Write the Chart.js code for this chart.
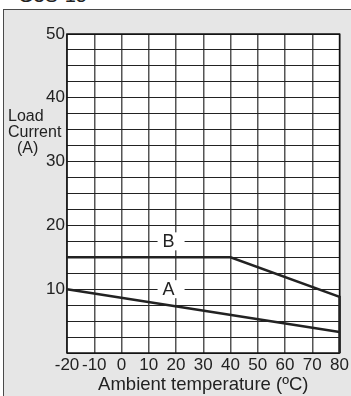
<!DOCTYPE html>
<html>
<head>
<meta charset="utf-8">
<script src="https://cdn.jsdelivr.net/npm/chart.js@4.4.1/dist/chart.umd.min.js"></script>
<style>
	body { margin: 0; width: 351px; height: 396px; overflow: hidden; background: #fff; position: relative; font-family: Arial, "Liberation Sans", sans-serif; }
	#panel { position: absolute; left: 3px; top: 9px; width: 400px; height: 420px; background: #e6e6e6; border: 1px solid #4a4a4a; }
	#title { position: absolute; left: 18px; top: -16px; font-size: 20px; color: #222; }
	#ylab { position: absolute; left: 8px; top: 108px; font-size: 16px; line-height: 16px; color: #222; white-space: pre; }
	#wrap { position: absolute; left: 0; top: 0; width: 351px; height: 396px; }
</style>
</head>
<body>
<div id="panel"></div>
<div id="title">G3S-15</div>
<div id="wrap"><canvas id="chart"></canvas></div>
<div id="ylab">Load
Current
  (A)</div>
<script>
// temperature points (ºC) and load current (A) for each curve
var tempsA = [-20, 80];
var currentA = [10, 3.3];
var tempsB = [-20, 40, 80, 80];
var currentB = [15, 15, 8.8, 0];

// curve labels, placed in data units
var curveNames = ['A', 'B'];
var nameTemps = [18, 18];
var nameCurrents = [10, 17.5];

var xTicks = [-20, -10, 0, 10, 20, 30, 40, 50, 60, 70, 80];
var yLabels = [10, 20, 30, 40, 50];

function points(xs, ys) {
	return xs.map(function (x, i) {
		return { x: x, y: ys[i] };
	});
}

var plotBack = {
	id: 'plotBack',
	beforeDraw: function (chart) {
		var a = chart.chartArea;
		var ctx = chart.ctx;
		ctx.save();
		ctx.fillStyle = '#fff';
		ctx.fillRect(a.left, a.top, a.right - a.left, a.bottom - a.top);
		ctx.restore();
	},
	beforeDatasetsDraw: function (chart) {
		var a = chart.chartArea;
		var ctx = chart.ctx;
		ctx.save();
		ctx.strokeStyle = '#111';
		ctx.lineWidth = 1.5;
		ctx.strokeRect(a.left, a.top, a.right - a.left, a.bottom - a.top);
		ctx.restore();
	},
	afterDatasetsDraw: function (chart) {
		var ctx = chart.ctx;
		var xs = chart.scales.x, ys = chart.scales.y;
		ctx.save();
		ctx.font = '18px Arial, "Liberation Sans"';
		ctx.textAlign = 'center';
		ctx.textBaseline = 'middle';
		for (var i = 0; i < curveNames.length; i++) {
			var px = xs.getPixelForValue(nameTemps[i]);
			var py = ys.getPixelForValue(nameCurrents[i]);
			ctx.fillStyle = '#fff';
			ctx.fillRect(px - 13, py - 9, 27, 18);
			ctx.fillStyle = '#222';
			ctx.fillText(curveNames[i], px - 2, py + 1);
		}
		ctx.restore();
	}
};

var ctx = document.getElementById('chart').getContext('2d');
var myChart = new Chart(ctx, {
	type: 'scatter',
	data: {
		datasets: [{
			label: 'A',
			data: points(tempsA, currentA),
			showLine: true,
			clip: false,
			borderColor: '#222',
			borderWidth: 2.5,
			pointRadius: 0
		}, {
			label: 'B',
			data: points(tempsB, currentB),
			showLine: true,
			clip: false,
			borderColor: '#222',
			borderWidth: 2.5,
			pointRadius: 0
		}]
	},
	options: {
		responsive: true,
		maintainAspectRatio: false,
		animation: false,
		layout: { padding: { top: 34, right: 5, left: 0, bottom: 0 } },
		plugins: {
			legend: { display: false },
			tooltip: { enabled: false }
		},
		scales: {
			x: {
				type: 'linear',
				min: -20,
				max: 80,
				afterBuildTicks: function (scale) {
					scale.ticks = xTicks.map(function (v) { return { value: v }; });
				},
				ticks: {
					autoSkip: false,
					maxRotation: 0,
					padding: 2,
					color: '#222',
					font: { size: 17, family: 'Arial, "Liberation Sans"' }
				},
				grid: { color: '#555', lineWidth: 1.5, drawTicks: false },
				border: { display: false },
				title: {
					display: true,
					text: 'Ambient temperature (ºC)',
					color: '#222',
					font: { size: 18.5, family: 'Arial, "Liberation Sans"' },
					padding: { top: 0, bottom: 0 }
				},
				afterFit: function (scale) { scale.height = 43; }
			},
			y: {
				min: 0,
				max: 50,
				ticks: {
					stepSize: 2.5,
					autoSkip: false,
					padding: 2,
					color: '#222',
					font: { size: 17, family: 'Arial, "Liberation Sans"' },
					callback: function (v) {
						return yLabels.indexOf(v) >= 0 ? v : '';
					}
				},
				grid: { color: '#222', lineWidth: 1, drawTicks: false },
				border: { display: false },
				afterFit: function (scale) { scale.width = 67; }
			}
		}
	},
	plugins: [plotBack]
});
</script>
</body>
</html>
